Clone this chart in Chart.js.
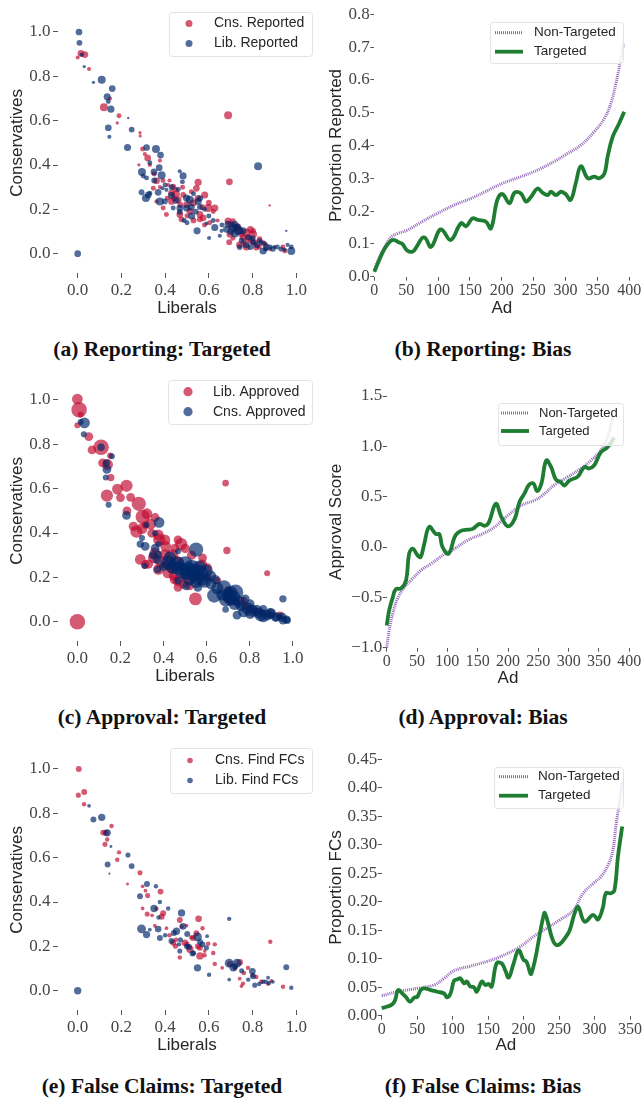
<!DOCTYPE html>
<html><head><meta charset="utf-8">
<script src="https://cdn.jsdelivr.net/npm/chart.js@4"></script>
<style>
body{margin:0;background:#fff;width:642px;height:1099px;position:relative;overflow:hidden}
.p{position:absolute;width:321px;height:330px}
.cap{position:absolute;width:324px;text-align:center;font:bold 21.5px "Liberation Serif",serif;color:#111;line-height:24px;white-space:nowrap}
</style></head><body>
<div class="p" style="left:0;top:0"><canvas id="ca" width="321" height="330"></canvas></div>
<div class="p" style="left:321px;top:0"><canvas id="cb" width="321" height="330"></canvas></div>
<div class="p" style="left:0;top:368px"><canvas id="cc" width="321" height="330"></canvas></div>
<div class="p" style="left:321px;top:368px"><canvas id="cd" width="321" height="330"></canvas></div>
<div class="p" style="left:0;top:737px"><canvas id="ce" width="321" height="330"></canvas></div>
<div class="p" style="left:321px;top:737px"><canvas id="cf" width="321" height="330"></canvas></div>
<div class="cap" style="left:0;top:337px">(a) Reporting: Targeted</div>
<div class="cap" style="left:321px;top:337px">(b) Reporting: Bias</div>
<div class="cap" style="left:0;top:705px">(c) Approval: Targeted</div>
<div class="cap" style="left:321px;top:705px">(d) Approval: Bias</div>
<div class="cap" style="left:0;top:1074px">(e) False Claims: Targeted</div>
<div class="cap" style="left:321px;top:1074px">(f) False Claims: Bias</div>
<script>
// ---------- DATA ----------
// scatter points: [liberal share, conservative share, relative size]
const A_CNS_REPORTED = [[0.00,0.885,0.2],[0.015,0.904,0.5],[0.033,0.898,0.5],[0.052,0.833,0.2],[0.12,0.661,0.65],[0.148,0.70,0.2],[0.189,0.622,0.3],[0.181,0.59,0.1],[0.688,0.625,0.65],[0.285,0.546,0.1],[0.286,0.531,0.1],[0.297,0.472,0.3],[0.32,0.432,0.5],[0.28,0.401,0.1],[0.307,0.45,0.2],[0.361,0.329,0.5],[0.376,0.301,0.2],[0.414,0.31,0.2],[0.437,0.302,0.4],[0.449,0.268,0.65],[0.46,0.243,0.5],[0.467,0.177,0.5],[0.475,0.155,0.4],[0.498,0.221,0.5],[0.551,0.322,0.55],[0.543,0.295,0.5],[0.581,0.265,0.55],[0.597,0.206,0.65],[0.627,0.206,0.55],[0.574,0.162,0.5],[0.559,0.155,0.4],[0.604,0.14,0.3],[0.528,0.229,0.55],[0.694,0.324,0.5],[0.878,0.218,0.0],[0.688,0.147,0.55],[0.696,0.088,0.5],[0.693,0.052,0.4],[0.718,0.118,0.5],[0.772,0.096,0.65],[0.802,0.088,0.65],[0.795,0.059,0.55],[0.772,0.03,0.55],[0.817,0.03,0.5],[0.848,0.047,0.4],[0.802,0.103,0.4],[0.939,0.03,0.3],[0.947,0.012,0.3],[0.346,0.295,0.3],[0.391,0.206,0.3],[0.406,0.177,0.3],[0.429,0.236,0.5],[0.741,0.103,0.55],[0.756,0.074,0.5],[0.71,0.147,0.4],[0.483,0.265,0.4],[0.513,0.192,0.5],[0.429,0.273,0.5],[0.376,0.42,0.2],[0.36,0.236,0.2],[0.559,0.177,0.5],[0.832,0.066,0.4],
  [0.44,0.25,0.4],[0.45,0.29,0.3],[0.52,0.28,0.3],[0.55,0.25,0.5],[0.57,0.21,0.4],[0.62,0.19,0.3],[0.64,0.15,0.2],[0.5,0.17,0.3],[0.53,0.15,0.4],[0.58,0.13,0.3],[0.7,0.13,0.5],[0.73,0.12,0.6],[0.75,0.09,0.5],[0.78,0.07,0.6],[0.79,0.11,0.5],[0.81,0.05,0.5],[0.76,0.05,0.4],[0.71,0.07,0.3],[0.74,0.04,0.5],[0.83,0.03,0.3],[0.86,0.04,0.3],[0.88,0.02,0.2],[0.35,0.36,0.3],[0.33,0.4,0.2],[0.39,0.33,0.3],[0.42,0.33,0.2],[0.48,0.3,0.3],[0.47,0.22,0.4],[0.41,0.25,0.3],[0.6,0.23,0.4]];
const A_LIB_REPORTED = [[0.006,1.0,0.5],[0.008,0.951,0.4],[0.018,0.897,0.2],[0.03,0.844,0.1],[0.072,0.773,0.1],[0.11,0.785,0.65],[0.135,0.708,0.55],[0.14,0.686,0.3],[0.152,0.652,0.55],[0.158,0.745,0.5],[0.14,0.568,0.5],[0.145,0.527,0.2],[0.231,0.612,0.0],[0.247,0.56,0.4],[0.228,0.479,0.55],[0.0,0.0,0.5],[0.315,0.479,0.5],[0.358,0.472,0.65],[0.379,0.445,0.5],[0.294,0.369,0.65],[0.30,0.351,0.3],[0.315,0.342,0.3],[0.349,0.369,0.5],[0.373,0.388,0.5],[0.384,0.354,0.65],[0.388,0.295,0.2],[0.368,0.277,0.5],[0.292,0.277,0.4],[0.312,0.251,0.65],[0.33,0.273,0.3],[0.376,0.236,0.65],[0.406,0.288,0.2],[0.429,0.263,0.5],[0.467,0.372,0.2],[0.482,0.351,0.55],[0.479,0.324,0.3],[0.498,0.251,0.55],[0.513,0.243,0.65],[0.551,0.236,0.55],[0.498,0.206,0.55],[0.521,0.17,0.55],[0.559,0.211,0.4],[0.467,0.206,0.5],[0.546,0.103,0.55],[0.601,0.071,0.2],[0.627,0.118,0.55],[0.658,0.103,0.2],[0.688,0.133,0.55],[0.711,0.118,0.75],[0.734,0.106,0.85],[0.718,0.133,0.55],[0.741,0.03,0.4],[0.802,0.052,0.4],[0.825,0.394,0.65],[0.833,0.059,0.3],[0.855,0.047,0.2],[0.863,0.03,0.5],[0.893,0.022,0.4],[0.913,0.03,0.3],[0.954,0.103,0.0],[0.977,0.03,0.3],[0.977,0.012,0.65],[0.947,0.018,0.2],[0.848,0.012,0.55],[0.467,0.189,0.4],[0.487,0.15,0.3],[0.437,0.206,0.3],[0.399,0.236,0.4],[0.323,0.265,0.5],[0.756,0.103,0.55],[0.779,0.074,0.4],[0.589,0.136,0.2],[0.65,0.081,0.2],
  [0.35,0.33,0.4],[0.33,0.41,0.3],[0.4,0.31,0.3],[0.43,0.3,0.4],[0.45,0.24,0.5],[0.46,0.29,0.3],[0.52,0.21,0.5],[0.54,0.19,0.4],[0.56,0.25,0.4],[0.58,0.2,0.3],[0.6,0.17,0.3],[0.62,0.15,0.3],[0.5,0.14,0.3],[0.53,0.27,0.3],[0.7,0.1,0.5],[0.72,0.09,0.6],[0.73,0.12,0.5],[0.75,0.06,0.4],[0.77,0.04,0.5],[0.79,0.03,0.4],[0.8,0.07,0.4],[0.82,0.04,0.5],[0.84,0.05,0.3],[0.86,0.02,0.3],[0.88,0.03,0.3],[0.9,0.03,0.2],[0.93,0.02,0.3],[0.96,0.04,0.2],[0.68,0.11,0.5],[0.66,0.13,0.3]];
const C_LIB_APPROVED = [[0,1.004,0.5],[0.008,0.956,0.83],[0.015,0.934,0.17],[0,0.886,0.17],[0.053,0.835,0.36],[0.068,0.775,0.36],[0.11,0.787,0.83],[0.117,0.716,0.36],[0.14,0.709,0.5],[0.152,0.749,0.17],[0.155,0.65,0.26],[0.137,0.569,0.6],[0.186,0.598,0.5],[0.228,0.613,0.6],[0.247,0.561,0.36],[0.285,0.532,0.74],[0.303,0.473,0.74],[0.323,0.487,0.5],[0.361,0.47,0.36],[0.274,0.406,0.6],[0.315,0.436,0.26],[0.376,0.391,0.5],[0.406,0.369,0.5],[0.467,0.369,0.36],[0.482,0.35,0.6],[0.452,0.332,0.36],[0.292,0.281,0.5],[0.315,0.258,0.36],[0.353,0.288,0.5],[0.376,0.236,0.5],[0.406,0.303,0.5],[0.437,0.244,0.5],[0.467,0.185,0.5],[0.467,0.155,0.36],[0.498,0.214,0.5],[0.521,0.162,0.36],[0.548,0.103,0.64],[0.581,0.288,0.36],[0.604,0.244,0.36],[0.65,0.185,0.26],[0.688,0.625,0.21],[0.694,0.321,0.26],[0.881,0.219,0.17],[0.696,0.103,0.36],[0.772,0.096,0.26],[0.802,0.059,0.26],[0.833,0.044,0.26],[0.939,0.022,0.17],[0,0,0.83],[0.345,0.399,0.36],[0.414,0.258,0.36],[0.444,0.207,0.36],
  [0.3,0.42,0.5],[0.34,0.44,0.5],[0.38,0.37,0.6],[0.41,0.34,0.5],[0.44,0.3,0.6],[0.47,0.27,0.5],[0.42,0.22,0.5],[0.45,0.19,0.4],[0.49,0.17,0.4],[0.52,0.19,0.5],[0.55,0.21,0.5],[0.58,0.26,0.4],[0.6,0.2,0.4],[0.36,0.31,0.5],[0.33,0.26,0.4],[0.39,0.27,0.6],[0.26,0.43,0.4],[0.23,0.5,0.36],[0.2,0.56,0.36],[0.7,0.14,0.3],[0.74,0.09,0.3],[0.78,0.07,0.3],[0.82,0.05,0.3],[0.86,0.04,0.26],[0.9,0.03,0.26],[0.94,0.03,0.26],[0.5,0.33,0.4],[0.53,0.3,0.4]];
const C_CNS_APPROVED = [[0.033,0.897,0.5],[0.015,0.901,0.17],[0.03,0.845,0.17],[0.11,0.787,0.26],[0.135,0.716,0.26],[0.137,0.687,0.36],[0.132,0.65,0.17],[0.16,0.746,0.17],[0.145,0.527,0.17],[0.228,0.48,0.36],[0.32,0.436,0.17],[0.379,0.448,0.5],[0.292,0.35,0.26],[0.315,0.34,0.36],[0.361,0.332,0.36],[0.376,0.35,0.17],[0.376,0.303,0.26],[0.373,0.236,0.26],[0.312,0.251,0.17],[0.422,0.266,0.74],[0.444,0.247,0.74],[0.467,0.318,0.17],[0.551,0.325,0.74],[0.49,0.229,0.83],[0.513,0.229,0.97],[0.543,0.222,0.97],[0.566,0.244,0.74],[0.559,0.199,0.74],[0.589,0.185,0.74],[0.619,0.207,0.5],[0.467,0.185,0.26],[0.505,0.162,0.36],[0.559,0.155,0.36],[0.635,0.118,0.74],[0.68,0.155,0.74],[0.703,0.118,0.74],[0.734,0.133,0.83],[0.711,0.096,0.5],[0.688,0.055,0.21],[0.779,0.103,0.36],[0.802,0.081,0.36],[0.741,0.03,0.36],[0.772,0.044,0.5],[0.802,0.037,0.5],[0.833,0.052,0.5],[0.863,0.022,0.5],[0.893,0.037,0.5],[0.924,0.022,0.36],[0.954,0.103,0.26],[0.954,0.007,0.36],[0.974,0.007,0.26],[0.939,0.022,0.17],[0.863,0.059,0.26],[0.361,0.399,0.17],[0.3,0.377,0.17],
  [0.47,0.24,0.74],[0.5,0.26,0.83],[0.52,0.2,0.83],[0.55,0.18,0.6],[0.57,0.22,0.83],[0.6,0.23,0.6],[0.62,0.17,0.5],[0.65,0.15,0.6],[0.67,0.12,0.5],[0.71,0.13,0.74],[0.72,0.11,0.83],[0.75,0.09,0.6],[0.76,0.07,0.5],[0.79,0.06,0.6],[0.81,0.05,0.6],[0.84,0.04,0.5],[0.85,0.03,0.6],[0.88,0.03,0.5],[0.9,0.04,0.4],[0.92,0.02,0.4],[0.95,0.02,0.4],[0.97,0.01,0.3],[0.43,0.29,0.6],[0.46,0.26,0.83],[0.53,0.24,0.97],[0.58,0.19,0.6],[0.4,0.25,0.4],[0.35,0.3,0.3],[0.37,0.28,0.36],[0.69,0.1,0.74],[0.73,0.08,0.6],[0.64,0.19,0.4]];
const E_CNS_FIND_FC = [[0.005,1.0,0.48],[0.003,0.882,0.37],[0.03,0.896,0.48],[0.029,0.841,0.29],[0.117,0.713,0.48],[0.129,0.712,0.48],[0.155,0.743,0.29],[0.135,0.682,0.29],[0.125,0.66,0.37],[0.189,0.624,0.29],[0.181,0.591,0.29],[0.228,0.481,0.1],[0.285,0.532,0.37],[0.297,0.471,0.2],[0.31,0.451,0.2],[0.32,0.429,0.37],[0.297,0.371,0.2],[0.318,0.346,0.37],[0.353,0.293,0.2],[0.379,0.447,0.48],[0.384,0.334,0.48],[0.391,0.349,0.48],[0.406,0.282,0.2],[0.437,0.216,0.48],[0.447,0.201,0.37],[0.467,0.15,0.29],[0.467,0.319,0.48],[0.475,0.29,0.29],[0.498,0.294,0.2],[0.553,0.324,0.57],[0.543,0.259,0.48],[0.571,0.282,0.29],[0.49,0.216,0.57],[0.513,0.187,0.66],[0.559,0.194,0.48],[0.559,0.157,0.66],[0.528,0.238,0.48],[0.597,0.212,0.29],[0.627,0.209,0.29],[0.581,0.179,0.2],[0.627,0.121,0.29],[0.661,0.103,0.2],[0.696,0.121,0.48],[0.741,0.128,0.57],[0.741,0.054,0.2],[0.779,0.103,0.29],[0.817,0.062,0.29],[0.881,0.221,0.29],[0.939,0.018,0.29],[0.886,0.044,0.2],[0.756,0.032,0.29],[0.749,0.021,0.2],
  [0.42,0.25,0.3],[0.45,0.23,0.3],[0.5,0.21,0.4],[0.52,0.24,0.3],[0.55,0.2,0.5],[0.58,0.16,0.3],[0.62,0.17,0.3],[0.72,0.1,0.3],[0.76,0.08,0.3],[0.8,0.07,0.3],[0.84,0.04,0.3],[0.87,0.03,0.2],[0.36,0.37,0.3],[0.34,0.34,0.2]];
const E_LIB_FIND_FC = [[0,0,0.66],[0.052,0.834,0.2],[0.072,0.772,0.48],[0.11,0.782,0.66],[0.135,0.712,0.66],[0.152,0.65,0.1],[0.137,0.569,0.48],[0.145,0.528,0],[0.23,0.612,0.37],[0.247,0.562,0.48],[0.285,0.426,0.48],[0.317,0.481,0.48],[0.358,0.471,0.29],[0.376,0.4,0.29],[0.414,0.371,0.29],[0.349,0.371,0.66],[0.292,0.279,0.86],[0.315,0.253,0.66],[0.33,0.275,0.2],[0.368,0.278,0.57],[0.376,0.238,0.48],[0.429,0.224,0.48],[0.452,0.268,0.66],[0.475,0.351,0.66],[0.482,0.29,0.57],[0.463,0.209,0.29],[0.467,0.179,0.37],[0.501,0.256,0.48],[0.51,0.197,0.48],[0.525,0.168,0.48],[0.548,0.243,0.86],[0.571,0.209,0.48],[0.592,0.246,0.2],[0.589,0.194,0.37],[0.548,0.103,0.66],[0.601,0.072,0.29],[0.693,0.324,0.29],[0.693,0.124,0.86],[0.711,0.103,0.66],[0.729,0.124,0.86],[0.693,0.05,0.2],[0.799,0.088,0.57],[0.802,0.065,0.48],[0.81,0.025,0.37],[0.848,0.04,0.29],[0.871,0.059,0.2],[0.893,0.04,0.2],[0.954,0.106,0.48],[0.977,0.013,0.29],[0.875,0.035,0.29],
  [0.44,0.26,0.48],[0.47,0.23,0.37],[0.5,0.2,0.48],[0.53,0.17,0.37],[0.56,0.22,0.48],[0.72,0.11,0.48],[0.75,0.09,0.37],[0.78,0.05,0.29],[0.83,0.03,0.29],[0.86,0.04,0.29],[0.4,0.25,0.29],[0.37,0.33,0.29]];

// bias curves: ad index (sorted) and value
const B_NONTARGET_AD = [0,8,16,26,37,52,75,99,125,152,175,199,230,256,282,300,324,345,361,371,379,387,391];
const B_NONTARGET_VAL = [0.02,0.06,0.09,0.12,0.132,0.142,0.168,0.193,0.218,0.239,0.26,0.283,0.305,0.325,0.351,0.372,0.401,0.442,0.483,0.528,0.589,0.666,0.711];
const B_TARGET_AD = [0,10,18,29,39,44,51,60,66,75,80,89,102,107,120,136,144,154,162,175,183,193,201,212,220,230,238,246,256,264,272,277,285,293,300,308,316,324,335,345,353,361,366,374,384,392];
const B_TARGET_VAL = [0.015,0.061,0.091,0.112,0.104,0.1,0.081,0.076,0.09,0.118,0.118,0.091,0.142,0.142,0.112,0.163,0.154,0.178,0.173,0.168,0.147,0.234,0.252,0.224,0.256,0.254,0.229,0.244,0.269,0.256,0.249,0.259,0.249,0.259,0.252,0.234,0.285,0.337,0.30,0.305,0.30,0.315,0.366,0.427,0.467,0.503];
const D_NONTARGET_AD = [0,4,10,18,29,40,57,73,95,112,133,161,178,200,222,244,257,276,298,320,337,353,364,373];
const D_NONTARGET_VAL = [-1.0,-0.83,-0.66,-0.51,-0.40,-0.33,-0.23,-0.166,-0.073,-0.017,0.066,0.139,0.199,0.315,0.414,0.464,0.513,0.613,0.695,0.778,0.861,0.96,1.09,1.29];
const D_TARGET_AD = [0,4,10,15,24,32,37,43,51,56,62,70,81,87,92,102,112,117,125,134,142,153,161,168,180,189,200,211,219,227,235,242,248,255,263,271,279,287,293,301,315,326,334,342,353,364,375];
const D_TARGET_VAL = [-0.78,-0.63,-0.50,-0.42,-0.41,-0.33,-0.066,-0.017,-0.083,-0.10,0.033,0.20,0.13,0.126,0.0,-0.066,0.10,0.14,0.166,0.172,0.18,0.23,0.21,0.24,0.43,0.30,0.205,0.28,0.447,0.53,0.62,0.63,0.556,0.63,0.86,0.795,0.67,0.645,0.61,0.66,0.70,0.795,0.78,0.81,0.94,0.99,1.086];
const F_NONTARGET_AD = [0,22,50,74,88,102,125,148,167,195,214,232,251,270,284,298,309,319,326,330,335,339];
const F_NONTARGET_VAL = [0.035,0.042,0.048,0.054,0.0655,0.079,0.087,0.095,0.1035,0.121,0.139,0.153,0.168,0.185,0.215,0.232,0.244,0.264,0.291,0.332,0.373,0.41];
const F_TARGET_AD = [0,8,15,19,23,29,34,40,46,50,55,60,69,78,88,92,97,102,107,111,116,120,125,130,134,141,146,151,155,162,169,174,179,186,193,200,204,211,229,232,242,249,260,265,272,277,286,298,305,312,316,323,328,333,339];
const F_TARGET_VAL = [0.013,0.016,0.02,0.0275,0.045,0.039,0.033,0.0246,0.032,0.033,0.045,0.048,0.045,0.042,0.039,0.032,0.039,0.0614,0.064,0.0655,0.057,0.06,0.051,0.05,0.042,0.06,0.054,0.0556,0.051,0.092,0.092,0.08,0.067,0.092,0.115,0.098,0.095,0.074,0.18,0.174,0.13,0.124,0.139,0.15,0.18,0.191,0.165,0.177,0.169,0.191,0.215,0.215,0.22,0.279,0.332];

// tick labels
const SHARE_TICKS = [0, 0.2, 0.4, 0.6, 0.8, 1.0];
const B_AD_TICKS = [0, 50, 100, 150, 200, 250, 300, 350, 400];
const B_VAL_TICKS = [0, 0.1, 0.2, 0.3, 0.4, 0.5, 0.6, 0.7, 0.8];
const D_AD_TICKS = [0, 50, 100, 150, 200, 250, 300, 350, 400];
const D_VAL_TICKS = [-1.0, -0.5, 0, 0.5, 1.0, 1.5];
const F_AD_TICKS = [0, 50, 100, 150, 200, 250, 300, 350];
const F_VAL_TICKS = [0, 0.05, 0.10, 0.15, 0.20, 0.25, 0.30, 0.35, 0.40, 0.45];

// ---------- STYLE ----------
const RED = 'rgba(191,10,48,0.68)', BLUE = 'rgba(0,40,104,0.68)';
const PURPLE = '#9467bd', GREEN = '#1f7d33';
const TICK_COLOR = '#454545', TITLE_COLOR = '#262626';
const SERIF = '"Liberation Serif", "Times New Roman", serif';
const SANS = '"Liberation Sans", Arial, sans-serif';

const boxLegend = {
  id: 'boxLegend',
  afterDatasetsDraw(chart, args, o) {
    if (!o || !o.rows) return;
    const ctx = chart.ctx;
    ctx.save();
    ctx.beginPath();
    if (ctx.roundRect) ctx.roundRect(o.x + 0.5, o.y + 0.5, o.w, o.h, 3); else ctx.rect(o.x + 0.5, o.y + 0.5, o.w, o.h);
    ctx.fillStyle = 'rgba(255,255,255,0.8)';
    ctx.fill();
    ctx.strokeStyle = '#e3e3e3';
    ctx.lineWidth = 1;
    ctx.stroke();
    chart.data.datasets.forEach((ds, i) => {
      const cy = o.rows[i];
      if (o.kind === 'dot') {
        ctx.beginPath();
        ctx.arc(o.markX, cy, o.markR, 0, Math.PI * 2);
        ctx.fillStyle = ds.backgroundColor;
        ctx.fill();
      } else {
        ctx.beginPath();
        ctx.setLineDash(ds.borderDash || []);
        ctx.moveTo(o.markX, cy);
        ctx.lineTo(o.markX + o.markW, cy);
        ctx.strokeStyle = ds.borderColor;
        ctx.lineWidth = ds.borderWidth;
        ctx.stroke();
        ctx.setLineDash([]);
      }
      ctx.fillStyle = TITLE_COLOR;
      ctx.font = o.fontSize + 'px ' + SANS;
      ctx.textBaseline = 'middle';
      ctx.textAlign = 'left';
      ctx.fillText(ds.label, o.textX, cy);
    });
    ctx.restore();
  }
};

function scaleOpts(s) {
  return {
    type: 'linear', min: s.min, max: s.max,
    afterBuildTicks: sc => { sc.ticks = s.ticks.map(v => ({ value: v })); },
    afterFit: sc => { if (sc.isHorizontal()) sc.height = s.fixed; else sc.width = s.fixed; },
    grid: { display: true, drawOnChartArea: false, drawTicks: true, tickLength: s.tickLen, color: '#555', lineWidth: 1 },
    border: { display: false },
    ticks: { autoSkip: false, maxRotation: 0, minRotation: 0, padding: s.pad, color: TICK_COLOR,
             font: { family: SERIF, size: s.fontSize, lineHeight: 1.2 }, callback: v => s.fmt(v) },
    title: { display: true, text: s.title, color: TITLE_COLOR, font: { family: SANS, size: 17, lineHeight: 1.2 }, padding: 0 }
  };
}

const fmt1 = v => { const t = Math.abs(v).toFixed(1); return v < -1e-9 ? '\u2212' + t : t; };
const fmt2 = v => v.toFixed(2);
const fmt0 = v => String(Math.round(v));

function bubbles(pts, rMin, rMax) { return pts.map(p => ({ x: p[0], y: p[1], r: rMin + p[2] * (rMax - rMin) })); }
function xy(xs, ys) { return xs.map((x, i) => ({ x: x, y: ys[i] })); }

const baseOpts = { responsive: false, animation: false, devicePixelRatio: 1, events: [] };

function scatterChart(id, s) {
  new Chart(document.getElementById(id), {
    type: 'bubble',
    data: { datasets: [
      { label: s.redLabel, data: bubbles(s.red, s.rMin, s.rMax), backgroundColor: RED, borderWidth: 0, order: 1 },
      { label: s.blueLabel, data: bubbles(s.blue, s.rMin, s.rMax), backgroundColor: BLUE, borderWidth: 0, order: 0 }
    ]},
    options: Object.assign({}, baseOpts, {
      layout: { padding: { left: 6.8, top: 7.6, right: 5, bottom: 11.8 } },
      scales: {
        x: scaleOpts({ min: -0.09, max: 1.09, ticks: SHARE_TICKS, fmt: fmt1, title: 'Liberals', fixed: 45.2, tickLen: 5, pad: 2, fontSize: 17 }),
        y: scaleOpts({ min: -0.087, max: 1.087, ticks: SHARE_TICKS, fmt: fmt1, title: 'Conservatives', fixed: 51.2, tickLen: 5, pad: 2.5, fontSize: 17 })
      },
      plugins: { legend: { display: false }, tooltip: { enabled: false }, boxLegend: s.legend }
    }),
    plugins: [boxLegend]
  });
}

function biasChart(id, s) {
  new Chart(document.getElementById(id), {
    type: 'line',
    data: { datasets: [
      { label: 'Non-Targeted', data: xy(s.ntX, s.ntY), borderColor: PURPLE, borderWidth: 3, borderDash: [1, 1], pointRadius: 0, tension: 0.4, fill: false, order: 1, clip: 6 },
      { label: 'Targeted', data: xy(s.tX, s.tY), borderColor: GREEN, borderWidth: 3.8, pointRadius: 0, tension: 0.4, fill: false, order: 0, clip: 6 }
    ]},
    options: Object.assign({}, baseOpts, {
      layout: { padding: s.padding },
      scales: {
        x: scaleOpts({ min: 0, max: s.xMax, ticks: s.xTicks, fmt: fmt0, title: 'Ad', fixed: s.xFixed, tickLen: 4, pad: 0, fontSize: 16 }),
        y: scaleOpts({ min: s.yMin, max: s.yMax, ticks: s.yTicks, fmt: s.yFmt, title: s.yTitle, fixed: s.yFixed, tickLen: 4, pad: 0.5, fontSize: 17 })
      },
      plugins: { legend: { display: false }, tooltip: { enabled: false }, boxLegend: s.legend }
    }),
    plugins: [boxLegend]
  });
}

scatterChart('ca', { redLabel: 'Cns. Reported', red: A_CNS_REPORTED, blueLabel: 'Lib. Reported', blue: A_LIB_REPORTED, rMin: 1.2, rMax: 5.5,
  legend: { kind: 'dot', x: 169, y: 12, w: 143, h: 44, rows: [23.5, 43.5], markX: 189, markR: 3.5, textX: 214, fontSize: 14 } });
scatterChart('cc', { redLabel: 'Lib. Approved', red: C_LIB_APPROVED, blueLabel: 'Cns. Approved', blue: C_CNS_APPROVED, rMin: 1.8, rMax: 9,
  legend: { kind: 'dot', x: 168, y: 12, w: 144, h: 44, rows: [23.7, 43.7], markX: 188, markR: 4.6, textX: 213, fontSize: 14 } });
scatterChart('ce', { redLabel: 'Cns. Find FCs', red: E_CNS_FIND_FC, blueLabel: 'Lib. Find FCs', blue: E_LIB_FIND_FC, rMin: 1.1, rMax: 5,
  legend: { kind: 'dot', x: 170, y: 11, w: 142, h: 45, rows: [23.5, 43.5], markX: 190, markR: 2.8, textX: 215, fontSize: 14 } });

biasChart('cb', { ntX: B_NONTARGET_AD, ntY: B_NONTARGET_VAL, tX: B_TARGET_AD, tY: B_TARGET_VAL,
  xMax: 400, xTicks: B_AD_TICKS, yMin: 0, yMax: 0.8, yTicks: B_VAL_TICKS, yFmt: fmt1, yTitle: 'Proportion Reported',
  padding: { left: 4.8, top: 14.3, right: 12.7, bottom: 11.8 }, xFixed: 41.5, yFixed: 48.5,
  legend: { kind: 'line', x: 169, y: 22, w: 133, h: 41, rows: [32.7, 51.7], markX: 174, markW: 28, textX: 213, fontSize: 13.5 } });
biasChart('cd', { ntX: D_NONTARGET_AD, ntY: D_NONTARGET_VAL, tX: D_TARGET_AD, tY: D_TARGET_VAL,
  xMax: 400, xTicks: D_AD_TICKS, yMin: -1, yMax: 1.5, yTicks: D_VAL_TICKS, yFmt: fmt1, yTitle: 'Approval Score',
  padding: { left: 4.8, top: 28, right: 12.7, bottom: 9.8 }, xFixed: 40.5, yFixed: 60.9,
  legend: { kind: 'line', x: 177, y: 35, w: 125, h: 42, rows: [45, 63], markX: 180, markW: 28, textX: 218, fontSize: 13 } });
biasChart('cf', { ntX: F_NONTARGET_AD, ntY: F_NONTARGET_VAL, tX: F_TARGET_AD, tY: F_TARGET_VAL,
  xMax: 350, xTicks: F_AD_TICKS, yMin: 0, yMax: 0.45, yTicks: F_VAL_TICKS, yFmt: fmt2, yTitle: 'Proportion FCs',
  padding: { left: 4.8, top: 22.3, right: 10, bottom: 11.8 }, xFixed: 39.5, yFixed: 55.9,
  legend: { kind: 'line', x: 173, y: 30, w: 129, h: 41, rows: [39.7, 58.7], markX: 178, markW: 29, textX: 217, fontSize: 13.5 } });
</script>
</body></html>
